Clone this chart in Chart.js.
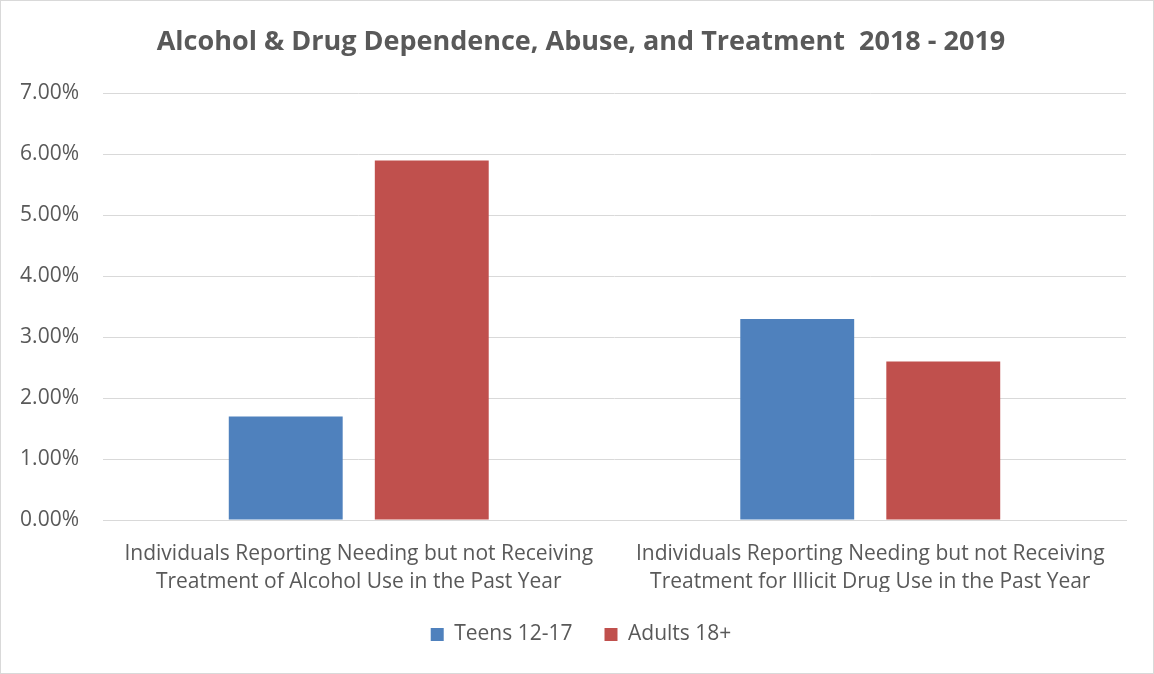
<!DOCTYPE html>
<html>
<head>
<meta charset="utf-8">
<script src="https://cdn.jsdelivr.net/npm/chart.js@4"></script>
<style>
	body { margin: 0; background: #fff; }
	#wrap { width: 1154px; height: 674px; box-sizing: border-box; border: 1px solid #d9d9d9; position: relative; }
	canvas { display: block; }
</style>
</head>
<body>
<div id="wrap"><canvas id="main"></canvas></div>
<script>
// chart data
var categories = [
	['Individuals Reporting Needing but not Receiving', 'Treatment of Alcohol Use in the Past Year'],
	['Individuals Reporting Needing but not Receiving', 'Treatment for Illicit Drug Use in the Past Year']
];
var teens = [1.7, 3.3];
var adults = [5.9, 2.6];
var seriesNames = ['Teens 12-17', 'Adults 18+'];
var titleText = 'Alcohol & Drug Dependence, Abuse, and Treatment  2018 - 2019';

var font = "Open Sans, 'Liberation Sans', sans-serif";
var grey = '#595959';

// center title and legend over the whole canvas, not just the padded area
var centerBoxes = {
	id: 'centerBoxes',
	afterLayout: function(chart){
		var t = chart.titleBlock;
		if (t){
			t.left = 0;
			t.right = chart.width + 8;
		}
		var l = chart.legend;
		if (l){
			l.left = 0;
			l.right = chart.width + 8;
		}
	}
};

var ctx = document.getElementById('main').getContext('2d');
var chart = new Chart(ctx, {
	type: 'bar',
	data: {
		labels: categories,
		datasets: [
			{ label: seriesNames[0], data: teens, backgroundColor: '#4F81BD', categoryPercentage: 0.571, barPercentage: 0.78 },
			{ label: seriesNames[1], data: adults, backgroundColor: '#C0504D', categoryPercentage: 0.571, barPercentage: 0.78 }
		]
	},
	plugins: [centerBoxes],
	options: {
		responsive: true,
		maintainAspectRatio: false,
		animation: false,
		layout: { padding: { left: 0, right: 27, top: 0, bottom: 18 } },
		plugins: {
			title: {
				display: true,
				text: titleText,
				color: grey,
				font: { family: font, size: 27, weight: 'bold', lineHeight: 1.2 },
				padding: { top: 25, bottom: 35 }
			},
			legend: {
				position: 'bottom',
				labels: {
					color: grey,
					font: { family: font, size: 21 },
					boxWidth: 13,
					boxHeight: 13,
					padding: 32
				}
			},
			tooltip: { enabled: false }
		},
		scales: {
			x: {
				grid: { display: false, drawTicks: false },
				border: { color: '#d9d9d9', width: 1 },
				ticks: { color: grey, font: { family: font, size: 21, lineHeight: 1.33 }, padding: 20, maxRotation: 0 },
				afterFit: function(axis){ axis.height = 72; }
			},
			y: {
				min: 0,
				max: 7,
				grid: { color: '#d9d9d9', drawTicks: false },
				border: { display: false },
				ticks: {
					stepSize: 1,
					color: grey,
					font: { family: font, size: 21 },
					padding: 24,
					callback: function(v){ return v.toFixed(2) + '%'; }
				},
				afterFit: function(axis){ axis.width = 102; }
			}
		}
	}
});
</script>
</body>
</html>
